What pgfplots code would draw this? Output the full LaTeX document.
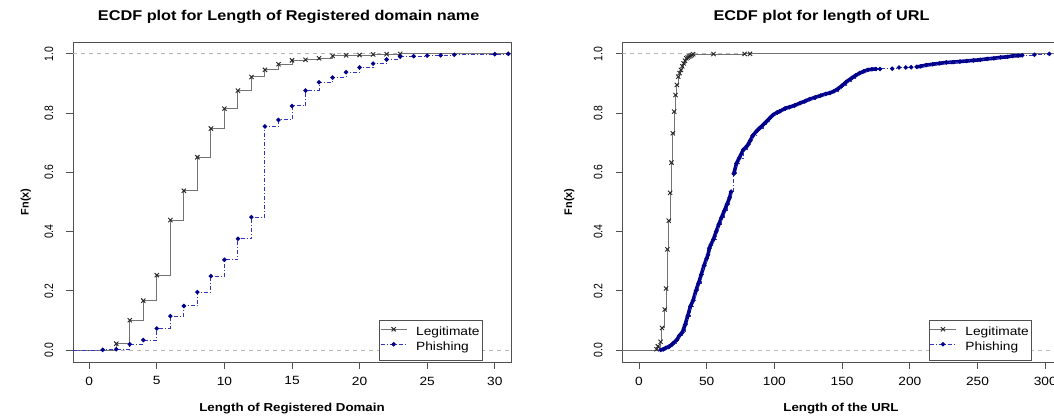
\documentclass[border=0pt]{standalone}
\usepackage{fontspec}
\setmainfont{Liberation Sans}[FakeStretch=1.15]
\newfontfamily\condfont{Liberation Sans}[FakeStretch=0.85]
\newfontfamily\plainfont{Liberation Sans}
\usepackage{pgfplots}
\pgfplotsset{compat=1.18}
\definecolor{navy}{RGB}{0,0,139}
\definecolor{phline}{RGB}{50,50,195}
\definecolor{frame}{RGB}{80,80,80}
\pgfplotsset{
  rstyle/.style={
    scale only axis, width=438bp, height=320bp,
    ymin=-0.04, ymax=1.04,
    ytick={0,0.2,0.4,0.6,0.8,1}, yticklabels={0.0,0.2,0.4,0.6,0.8,1.0},
    xtick pos=left, ytick pos=left, tick align=outside,
    major tick length=6.5bp,
    axis line style={draw=frame, line width=0.9bp},
    every tick/.style={draw=frame, line width=0.9bp},
    xticklabel style={font=\fontsize{12}{12}\selectfont, anchor=north, inner sep=0pt, yshift=-8bp},
    yticklabel style={font=\condfont\fontsize{12.3}{12.3}\selectfont, xshift=-13bp, rotate=90, anchor=south, inner sep=0pt},
    /pgf/number format/assume math mode=true,
    legend cell align=left,
    legend style={at={(0.935,0.004)}, anchor=south east, draw=frame, line width=0.9bp,
      font=\fontsize{12}{13}\selectfont, inner xsep=0.5bp, inner ysep=5bp, column sep=7bp,
      nodes={inner sep=2bp, text height=8.5bp, text depth=2.5bp}},
    legend image code/.code={\draw[mark repeat=2,mark phase=2,#1] plot coordinates {(0bp,3.5bp) (13bp,3.5bp) (26bp,3.5bp)};},
  },
  legit/.style={draw=black!55, line width=1bp, mark=x, mark size=3bp, mark options={draw=black!85, solid, line width=0.9bp}},
  phish/.style={draw=phline, line width=1bp, dash pattern=on 4bp off 2bp on 1bp off 2bp, mark=*, mark size=1.7bp, mark options={fill=navy, draw=navy, solid}},
  refline/.style={draw=black!28, line width=0.9bp, dash pattern=on 4bp off 4bp},
}
\begin{document}
\begin{tikzpicture}
\useasboundingbox (0,0) rectangle (1054bp,417bp);
\clip (0,0) rectangle (1054bp,417bp);
% ---------------- left panel
\begin{axis}[rstyle, at={(73bp,55bp)}, anchor=south west,
  xmin=-1.2, xmax=31.2, xtick={0,5,...,30}]
\addlegendimage{legit}\addlegendentry{Legitimate}
\addlegendimage{phish}\addlegendentry{Phishing}
\addplot[refline, forget plot] coordinates {(-1.2,0) (31.2,0)};
\addplot[refline, forget plot] coordinates {(-1.2,1) (31.2,1)};
% Legitimate
\addplot[legit, mark=none, const plot, forget plot] coordinates {
(-1.2,0) (2,0.022) (3,0.101) (4,0.167) (5,0.253) (6,0.439) (7,0.538) (8,0.651) (9,0.748)
(10,0.815) (11,0.876) (12,0.922) (13,0.946) (14,0.965) (15,0.978) (16,0.980) (17,0.985)
(18,0.993) (19,0.995) (20,0.996) (21,0.998) (22,0.999) (23,1.0) (31.2,1.0)};
\addplot[legit, only marks, forget plot] coordinates {
(2,0.022) (3,0.101) (4,0.167) (5,0.253) (6,0.439) (7,0.538) (8,0.651) (9,0.748)
(10,0.815) (11,0.876) (12,0.922) (13,0.946) (14,0.965) (15,0.978) (16,0.980) (17,0.985)
(18,0.993) (19,0.995) (20,0.996) (21,0.998) (22,0.999) (23,1.0)};
% Phishing
\addplot[phish, mark=none, const plot, forget plot] coordinates {
(-1.2,0) (1,0.001) (2,0.003) (3,0.020) (4,0.034) (5,0.073) (6,0.115) (7,0.149) (8,0.196)
(9,0.250) (10,0.305) (11,0.376) (12,0.449) (13,0.755) (14,0.777) (15,0.824) (16,0.876)
(17,0.904) (18,0.920) (19,0.938) (20,0.954) (21,0.967) (22,0.981) (23,0.991) (24,0.992)
(25,0.994) (26,0.995) (27,0.997) (30,0.999) (31,1.0) (31.2,1.0)};
\addplot[phish, only marks, forget plot] coordinates {
(1,0.001) (2,0.003) (3,0.020) (4,0.034) (5,0.073) (6,0.115) (7,0.149) (8,0.196)
(9,0.250) (10,0.305) (11,0.376) (12,0.449) (13,0.755) (14,0.777) (15,0.824) (16,0.876)
(17,0.904) (18,0.920) (19,0.938) (20,0.954) (21,0.967) (22,0.981) (23,0.991) (24,0.992)
(25,0.994) (26,0.995) (27,0.997) (30,0.999) (31,1.0)};
\end{axis}
% ---------------- right panel
\begin{axis}[rstyle, at={(622.3bp,55bp)}, anchor=south west,
  xmin=-12.3, xmax=311.1, xtick={0,50,...,300}]
\addlegendimage{legit}\addlegendentry{Legitimate}
\addlegendimage{phish}\addlegendentry{Phishing}
\addplot[refline, forget plot] coordinates {(-12.3,0) (311.1,0)};
\addplot[refline, forget plot] coordinates {(-12.3,1) (311.1,1)};
% Phishing (dense band + steps + points)
\addplot[navy, line width=3.6bp, line join=round, line cap=round, forget plot] coordinates {
(16,0.001) (18,0.003) (20,0.008) (22,0.011) (25,0.022) (28,0.035) (30,0.050) (32,0.060)
(34,0.085) (36,0.115) (38,0.148) (40,0.168) (42,0.200) (44,0.226) (46,0.255) (48,0.285)
(50,0.310) (51,0.322) (52,0.344) (53,0.355) (55,0.374) (57,0.400) (59,0.425) (61,0.448)
(63,0.470) (65,0.492) (67,0.515) (68,0.535)};
\addplot[navy, line width=3.6bp, line join=round, line cap=round, forget plot] coordinates {
(70,0.595) (72,0.630) (74,0.648) (77,0.676) (80,0.690) (82,0.706) (84,0.724) (87,0.740)
(89,0.749) (92,0.762) (94,0.771) (97,0.785) (99,0.794) (102,0.802) (104,0.806) (108,0.816)
(111,0.820) (115,0.826) (119,0.834) (123,0.841) (126,0.847) (130,0.853) (134,0.859)
(138,0.865) (141,0.868) (144,0.874) (147,0.882) (150,0.893) (153,0.905) (157,0.918)
(160,0.927) (163,0.935) (166,0.941) (169,0.946) (172,0.948) (175,0.949)};
\addplot[navy, line width=3.6bp, line join=round, line cap=round, forget plot] coordinates {
(205,0.956) (208,0.958) (212,0.962) (217,0.965) (222,0.968) (227,0.971) (232,0.972)
(237,0.974) (242,0.976) (247,0.978) (252,0.980) (257,0.983) (262,0.985) (267,0.988)
(272,0.990) (276,0.993) (280,0.994) (283,0.995)};
\addplot[phish, mark=none, const plot, forget plot] coordinates {
(-12.3,0) (16,0.001) (18,0.003) (20,0.008) (22,0.011) (25,0.022) (28,0.035) (30,0.050) (32,0.060)
(34,0.085) (36,0.115) (38,0.148) (40,0.168) (42,0.200) (44,0.226) (46,0.255) (48,0.285)
(50,0.310) (51,0.322) (52,0.344) (53,0.355) (55,0.374) (57,0.400) (59,0.425) (61,0.448)
(63,0.470) (65,0.492) (67,0.515) (68,0.535)
(70,0.595) (72,0.630) (74,0.648) (77,0.676) (80,0.690) (82,0.706) (84,0.724) (87,0.740)
(89,0.749) (92,0.762) (94,0.771) (97,0.785) (99,0.794) (102,0.802) (104,0.806) (108,0.816)
(111,0.820) (115,0.826) (119,0.834) (123,0.841) (126,0.847) (130,0.853) (134,0.859)
(138,0.865) (141,0.868) (144,0.874) (147,0.882) (150,0.893) (153,0.905) (157,0.918)
(160,0.927) (163,0.935) (166,0.941) (169,0.946) (172,0.948) (175,0.949) (178,0.949)
(187,0.950) (192,0.954) (197,0.954) (201,0.955)
(205,0.956) (208,0.958) (212,0.962) (217,0.965) (222,0.968) (227,0.971) (232,0.972)
(237,0.974) (242,0.976) (247,0.978) (252,0.980) (257,0.983) (262,0.985) (267,0.988)
(272,0.990) (276,0.993) (280,0.994) (283,0.995) (292,0.997) (303,1.0) (311.1,1.0)};
\addplot[phish, only marks, forget plot] coordinates {
(16,0.001) (18,0.003) (20,0.008) (22,0.011) (25,0.022) (28,0.035) (30,0.050) (32,0.060)
(34,0.085) (36,0.115) (38,0.148) (40,0.168) (42,0.200) (44,0.226) (46,0.255) (48,0.285)
(50,0.310) (51,0.322) (52,0.344) (53,0.355) (55,0.374) (57,0.400) (59,0.425) (61,0.448)
(63,0.470) (65,0.492) (67,0.515) (68,0.535)
(70,0.595) (72,0.630) (74,0.648) (77,0.676) (80,0.690) (82,0.706) (84,0.724) (87,0.740)
(89,0.749) (92,0.762) (94,0.771) (97,0.785) (99,0.794) (102,0.802) (104,0.806) (108,0.816)
(111,0.820) (115,0.826) (119,0.834) (123,0.841) (126,0.847) (130,0.853) (134,0.859)
(138,0.865) (141,0.868) (144,0.874) (147,0.882) (150,0.893) (153,0.905) (157,0.918)
(160,0.927) (163,0.935) (166,0.941) (169,0.946) (172,0.948) (175,0.949) (178,0.949)
(187,0.950) (192,0.954) (197,0.954) (201,0.955)
(205,0.956) (208,0.958) (212,0.962) (217,0.965) (222,0.968) (227,0.971) (232,0.972)
(237,0.974) (242,0.976) (247,0.978) (252,0.980) (257,0.983) (262,0.985) (267,0.988)
(272,0.990) (276,0.993) (280,0.994) (283,0.995) (292,0.997) (303,1.0)};
% Legitimate
\addplot[legit, mark=none, const plot, forget plot] coordinates {
(-12.3,0) (13,0.003) (14,0.013) (16,0.028) (17,0.075) (19,0.137) (20,0.208) (21,0.340)
(22,0.437) (23,0.531) (24,0.633) (25,0.732) (26,0.805) (27,0.861) (28,0.895) (29,0.923)
(30,0.935) (31,0.946) (32,0.958) (33,0.968) (34,0.977) (35,0.985) (36,0.988) (37,0.991)
(38,0.993) (39,0.996) (40,0.999) (55,0.9993) (78,0.9996) (82,1.0) (311.1,1.0)};
\addplot[legit, only marks, forget plot] coordinates {
(13,0.003) (14,0.013) (16,0.028) (17,0.075) (19,0.137) (20,0.208) (21,0.340)
(22,0.437) (23,0.531) (24,0.633) (25,0.732) (26,0.805) (27,0.861) (28,0.895) (29,0.923)
(30,0.935) (31,0.946) (32,0.958) (33,0.968) (34,0.977) (35,0.985) (36,0.988) (37,0.991)
(38,0.993) (39,0.996) (40,0.999) (55,0.9993) (78,0.9996) (82,1.0)};
\end{axis}
% ---------------- titles and labels
\node[font=\bfseries\fontsize{14.2}{14.2}\selectfont, anchor=base] at (288.7bp,396bp) {ECDF plot for Length of Registered domain name};
\node[font=\bfseries\fontsize{14.2}{14.2}\selectfont, anchor=base] at (821.5bp,396bp) {ECDF plot for length of URL};
\node[font=\bfseries\fontsize{11.6}{11.6}\selectfont, anchor=base] at (292bp,5.5bp) {Length of Registered Domain};
\node[font=\bfseries\fontsize{11.6}{11.6}\selectfont, anchor=base] at (841bp,5.5bp) {Length of the URL};
\node[font=\plainfont\bfseries\fontsize{11}{11}\selectfont, rotate=90, anchor=base] at (28.5bp,215bp) {Fn(x)};
\node[font=\plainfont\bfseries\fontsize{11}{11}\selectfont, rotate=90, anchor=base] at (572bp,215bp) {Fn(x)};
\end{tikzpicture}
\end{document}
